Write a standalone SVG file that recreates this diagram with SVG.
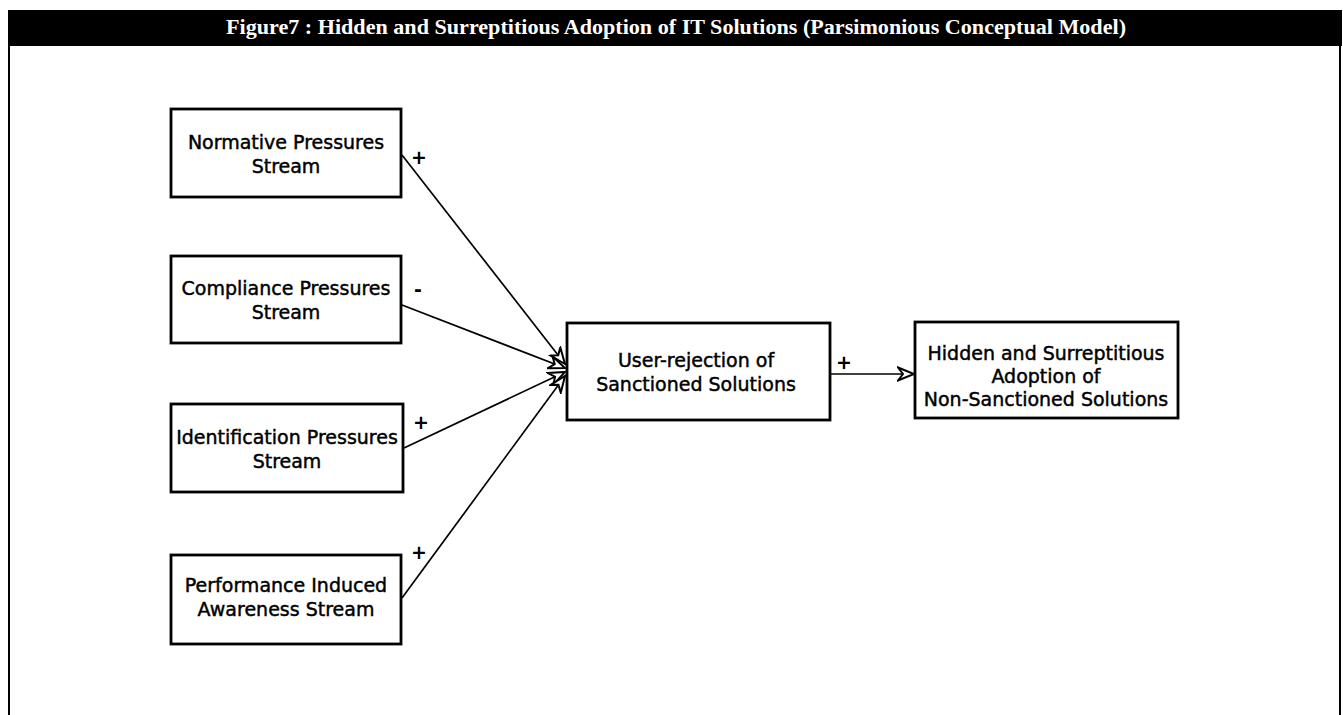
<svg xmlns="http://www.w3.org/2000/svg" width="1343" height="715" viewBox="0 0 1343 715">
  <defs>
    <style>
      .node rect { fill: #ffffff; stroke: #000000; stroke-width: 2.8; }
      .node text { font-family: "DejaVu Sans", "Liberation Sans", sans-serif; font-size: 19px; fill: #000000; text-anchor: middle; stroke: #000; stroke-width: 0.45; }
      .conn line { stroke: #000000; stroke-width: 1.7; fill: none; }
      .sign { font-family: "DejaVu Sans", "Liberation Sans", sans-serif; font-size: 19px; font-weight: bold; fill: #000000; text-anchor: middle; }
      .title { font-family: "Liberation Serif", "DejaVu Serif", serif; font-size: 21px; font-weight: bold; fill: #ffffff; text-anchor: middle; }
    </style>
    <marker id="open" markerUnits="userSpaceOnUse" markerWidth="20" markerHeight="16" refX="17" refY="8" orient="auto">
      <path d="M1,1.5 L17,8 L1,14.5 L6,8 Z" fill="#ffffff" stroke="#000000" stroke-width="2" stroke-linejoin="miter"/>
    </marker>
  </defs>
  <rect x="0" y="0" width="1343" height="715" fill="#ffffff"/>
  <g id="frame">
    <rect x="8" y="10" width="1334" height="36" fill="#000000"/>
    <line x1="9" y1="46" x2="9" y2="715" stroke="#000" stroke-width="2"/>
    <line x1="1340" y1="46" x2="1340" y2="715" stroke="#000" stroke-width="2"/>
    <text class="title" x="676" y="34" textLength="900" lengthAdjust="spacingAndGlyphs">Figure7 : Hidden and Surreptitious Adoption of IT Solutions (Parsimonious Conceptual Model)</text>
  </g>
  <g id="connectors" class="conn">
    <line x1="402" y1="155" x2="565" y2="364" marker-end="url(#open)"/>
    <line x1="402" y1="305" x2="565" y2="368" marker-end="url(#open)"/>
    <line x1="404" y1="448" x2="565" y2="372" marker-end="url(#open)"/>
    <line x1="402" y1="598" x2="565" y2="376" marker-end="url(#open)"/>
    <line x1="831" y1="374" x2="914" y2="374" marker-end="url(#open)"/>
    <text class="sign" x="419" y="164">+</text>
    <text class="sign" x="418" y="296">-</text>
    <text class="sign" x="421" y="429">+</text>
    <text class="sign" x="419" y="559">+</text>
    <text class="sign" x="844" y="369">+</text>
  </g>
  <g id="normative" class="node">
    <rect x="171" y="109" width="230" height="88"/>
    <text x="286" y="149">Normative Pressures</text>
    <text x="286" y="173">Stream</text>
  </g>
  <g id="compliance" class="node">
    <rect x="171" y="256" width="230" height="87"/>
    <text x="286" y="295">Compliance Pressures</text>
    <text x="286" y="319">Stream</text>
  </g>
  <g id="identification" class="node">
    <rect x="171" y="404" width="232" height="88"/>
    <text x="287" y="444">Identification Pressures</text>
    <text x="287" y="468">Stream</text>
  </g>
  <g id="performance" class="node">
    <rect x="171" y="555" width="230" height="89"/>
    <text x="286" y="592">Performance Induced</text>
    <text x="286" y="616">Awareness Stream</text>
  </g>
  <g id="user-rejection" class="node">
    <rect x="567" y="323" width="263" height="97"/>
    <text x="696" y="367">User-rejection of</text>
    <text x="696" y="391">Sanctioned Solutions</text>
  </g>
  <g id="hidden-adoption" class="node">
    <rect x="915" y="322" width="263" height="96"/>
    <text x="1046" y="360">Hidden and Surreptitious</text>
    <text x="1046" y="383">Adoption of</text>
    <text x="1046" y="406">Non-Sanctioned Solutions</text>
  </g>
</svg>
